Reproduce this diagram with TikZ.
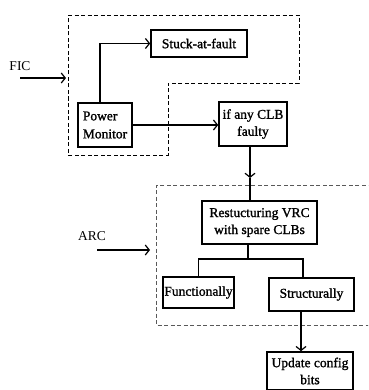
\documentclass[tikz,border=0pt]{standalone}
\usepackage{fontspec}
\setmainfont{Liberation Serif}
\newfontfamily\boxfont{Liberation Serif}[FakeBold=1.3]
\usetikzlibrary{arrows.meta}
\begin{document}
\begin{tikzpicture}[x=1pt,y=-1pt,
  box/.style={draw,line width=1.6pt,inner sep=0pt,font=\boxfont\fontsize{13.5}{17}\selectfont,align=center},
  conn/.style={line width=1.5pt},
  arr/.style={conn,-{Straight Barb[length=4pt,width=10pt,line width=1.2pt]}},
  region/.style={dash pattern=on 4pt off 2.5pt,line width=0.8pt},
  lbl/.style={font=\fontsize{13.5}{15}\selectfont}]
\useasboundingbox (0,0) rectangle (368,390);
\begin{scope}
\clip (0,0) rectangle (368,390);
% dashed regions
\draw[region] (68,15) -- (299,15) -- (299,83) -- (168,83) -- (168,155) -- (68,155) -- cycle;
\draw[region,gray!70!black] (372,185) -- (156,185) -- (156,325) -- (372,325);
% boxes
\node[box,minimum width=96pt,minimum height=27pt] (stuck) at (199,43.5) {Stuck-at-fault};
\node[box,minimum width=54pt,minimum height=44pt,align=left,font=\boxfont\fontsize{13.5}{18}\selectfont] (pm) at (105,125) {Power\\Monitor};
\node[box,minimum width=68pt,minimum height=44pt] (clb) at (253,124) {if any CLB\\faulty};
\node[box,minimum width=115pt,minimum height=43pt] (vrc) at (259.5,222.5) {Restucturing VRC\\with spare CLBs};
\node[box,minimum width=71pt,minimum height=31pt] (func) at (198.5,292.5) {Functionally};
\node[box,minimum width=85pt,minimum height=33pt] (struc) at (311.5,294.5) {Structurally};
\node[box,minimum width=86pt,minimum height=38pt] (upd) at (310,371) {Update config\\bits};
% labels
\node[lbl] (fic) at (20,66.5) {FIC};
\node[lbl] (arc) at (92,236) {ARC};
\coordinate (ficA) at (20,78);
\coordinate (ficB) at (66,78);
\coordinate (arcA) at (97,250);
\coordinate (arcB) at (150,250);
\draw[arr] (ficA) -- (ficB);
\draw[arr] (arcA) -- (arcB);
% connectors
\draw[arr] ([xshift=-5pt]pm.north) |- (stuck.west);
\draw[arr] (pm.east) -- (pm.east -| clb.west);
\coordinate (c1) at ([xshift=-3pt]clb.south);
\coordinate (m1) at (c1 |- 0,178);
\draw[arr] (c1) -- (m1);
\draw[conn] (m1) -- (c1 |- vrc.north);
\coordinate (v1) at ([xshift=-11.5pt]vrc.south);
\coordinate (j) at (v1 |- 0,259);
\draw[conn] (v1) -- (j);
\draw[conn] (func.north) |- (j) -| ([xshift=-8.5pt]struc.north);
\coordinate (s1) at ([xshift=-10.5pt]struc.south);
\draw[arr] (s1) -- (s1 |- upd.north);
\end{scope}
\end{tikzpicture}
\end{document}
